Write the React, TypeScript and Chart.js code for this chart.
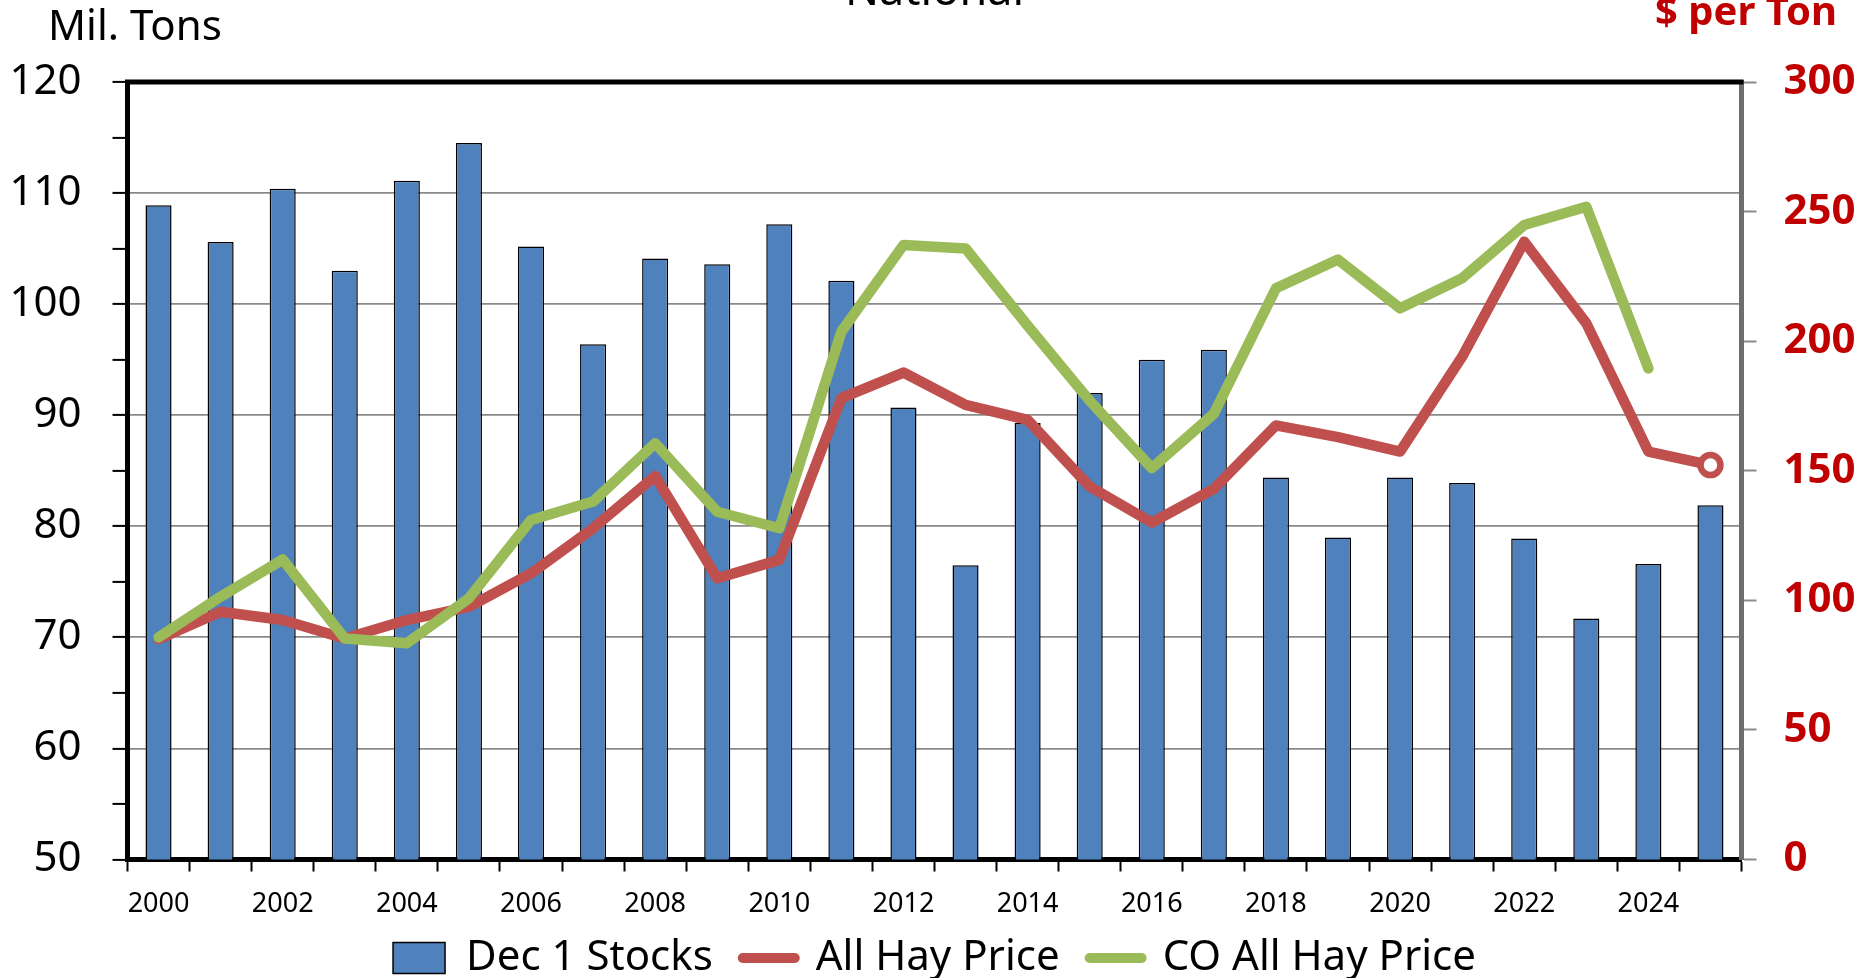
import React, { useEffect, useRef } from "react";
import { Chart, registerables } from "chart.js";

Chart.register(...registerables);

const years = [
  "2000", "2001", "2002", "2003", "2004", "2005", "2006", "2007", "2008", "2009",
  "2010", "2011", "2012", "2013", "2014", "2015", "2016", "2017", "2018", "2019",
  "2020", "2021", "2022", "2023", "2024", "2025",
];

const dec1Stocks = [
  108.9, 105.6, 110.4, 103.0, 111.1, 114.5, 105.2, 96.4, 104.1, 103.6,
  107.2, 102.1, 90.7, 76.5, 89.3, 92.0, 95.0, 95.9, 84.4, 79.0,
  84.4, 83.9, 78.9, 71.7, 76.6, 81.9,
];

const allHayPrice = [
  85.0, 95.6, 92.4, 85.3, 92.4, 97.5, 110.4, 127.8, 148.0, 108.5,
  115.6, 178.0, 187.9, 175.4, 169.6, 143.9, 130.0, 143.0, 167.5, 163.0,
  157.4, 194.0, 238.4, 206.9, 157.4, 152.2,
];

const coAllHayPrice: (number | null)[] = [
  85.7, 101.4, 115.8, 85.3, 83.4, 100.8, 131.0, 138.1, 160.6, 134.2,
  127.8, 203.7, 237.1, 235.8, 206.0, 177.0, 151.0, 172.0, 220.4, 231.5,
  212.7, 224.3, 244.8, 251.9, 189.5, null,
];

const leftMin = 50;
const leftMax = 120;
const rightMin = 0;
const rightMax = 300;

const FONT = "'Noto Sans', 'Open Sans', sans-serif";

const LEGEND_SHIFT = -10.5;

const decorPlugin = {
  id: "decor",
  afterLayout(chart: any) {
    const lg = chart.legend;
    if (lg) {
      lg.top += LEGEND_SHIFT;
      lg.bottom += LEGEND_SHIFT;
    }
  },
  beforeDatasetsDraw(chart: any) {
    const { ctx, chartArea } = chart;
    const { left, right, top } = chartArea;
    ctx.save();
    ctx.strokeStyle = "#000";
    ctx.lineWidth = 5;
    ctx.beginPath();
    ctx.moveTo(left - 2.5, top);
    ctx.lineTo(right + 2, top);
    ctx.stroke();
    ctx.restore();
  },
  afterDraw(chart: any) {
    const { ctx, chartArea } = chart;
    ctx.save();
    ctx.fillStyle = "#000";
    ctx.font = `42px ${FONT}`;
    ctx.textAlign = "left";
    ctx.textBaseline = "alphabetic";
    ctx.fillText("Mil. Tons", 48, 40);

    ctx.font = `45px ${FONT}`;
    ctx.textAlign = "center";
    ctx.fillText("National", (chartArea.left + chartArea.right) / 2, 5);

    ctx.fillStyle = "#C00000";
    ctx.font = `bold 40px ${FONT}`;
    ctx.textAlign = "right";
    ctx.fillText("$ per Ton", 1837, 25);
    ctx.restore();
  },
};

export default function App() {
  const canvasRef = useRef<HTMLCanvasElement | null>(null);

  useEffect(() => {
    if (!canvasRef.current) return;
    const lastIdx = allHayPrice.length - 1;
    const chart = new Chart(canvasRef.current, {
      data: {
        labels: years,
        datasets: [
          {
            type: "bar",
            label: "Dec 1 Stocks",
            data: dec1Stocks,
            backgroundColor: "#4F81BD",
            borderColor: "#000000",
            borderWidth: 1.5,
            barPercentage: 0.42,
            categoryPercentage: 1,
            yAxisID: "y",
            order: 3,
          },
          {
            type: "line",
            label: "All Hay Price",
            data: allHayPrice,
            borderColor: "#C0504D",
            backgroundColor: "#C0504D",
            borderWidth: 10.5,
            borderCapStyle: "round",
            borderJoinStyle: "round",
            pointRadius: allHayPrice.map((_, i) => (i === lastIdx ? 10 : 0)),
            pointBackgroundColor: "#FFFFFF",
            pointBorderColor: "#C0504D",
            pointBorderWidth: 6.5,
            tension: 0,
            yAxisID: "y1",
            order: 2,
          },
          {
            type: "line",
            label: "CO All Hay Price",
            data: coAllHayPrice,
            borderColor: "#9BBB59",
            backgroundColor: "#9BBB59",
            borderWidth: 10.5,
            borderCapStyle: "round",
            borderJoinStyle: "round",
            pointRadius: 0,
            tension: 0,
            yAxisID: "y1",
            order: 1,
          },
        ],
      } as any,
      options: {
        responsive: false,
        animation: false,
        maintainAspectRatio: false,
        layout: { padding: { top: 82, bottom: -21.5, left: 0, right: 0 } },
        plugins: {
          tooltip: { enabled: false },
          title: { display: false },
          legend: {
            display: true,
            position: "bottom",
            labels: {
              usePointStyle: true,
              pointStyleWidth: 52,
              boxHeight: 31,
              padding: 30,
              color: "#000",
              font: { family: FONT, size: 42 },
              sort: (a: any, b: any) => a.datasetIndex - b.datasetIndex,
              generateLabels: (c: any) => {
                const items = (Chart.defaults as any).plugins.legend.labels.generateLabels(c);
                return items.map((it: any) => ({
                  ...it,
                  pointStyle: it.datasetIndex === 0 ? "rect" : "line",
                  lineCap: it.datasetIndex === 0 ? "butt" : "round",
                  lineWidth: it.datasetIndex === 0 ? 1.5 : 10,
                }));
              },
            },
          },
        },
        scales: {
          x: {
            type: "category",
            offset: true,
            grid: {
              offset: true,
              drawOnChartArea: false,
              tickLength: 12,
              tickColor: "#000",
              tickWidth: 2,
            },
            border: { display: true, color: "#000", width: 5 },
            ticks: {
              autoSkip: false,
              maxRotation: 0,
              minRotation: 0,
              padding: 17,
              color: "#000",
              font: { family: FONT, size: 27 },
              callback: (_v: any, i: number) => (i % 2 === 0 ? years[i] : ""),
            },
            afterFit: (scale: any) => {
              scale.height = 58;
            },
          },
          y: {
            type: "linear",
            position: "left",
            min: leftMin,
            max: leftMax,
            grid: {
              drawOnChartArea: true,
              color: (ctx: any) =>
                ctx.tick && ctx.tick.value % 10 === 0 ? "#8A8A8A" : "rgba(0,0,0,0)",
              lineWidth: 1.8,
              tickLength: 15,
              tickColor: "#000",
              tickWidth: 2,
            },
            border: { display: true, color: "#000", width: 5 },
            ticks: {
              stepSize: 5,
              padding: 31,
              color: "#000",
              font: { family: FONT, size: 42 },
              callback: (v: any) => (Number(v) % 10 === 0 ? String(v) : ""),
            },
            afterFit: (scale: any) => {
              scale.width = 127.5;
            },
          },
          y1: {
            type: "linear",
            position: "right",
            min: rightMin,
            max: rightMax,
            grid: {
              drawOnChartArea: false,
              tickLength: 15,
              tickColor: "#8A8A8A",
              tickWidth: 2,
            },
            border: { display: true, color: "#6E6E6E", width: 5 },
            ticks: {
              stepSize: 50,
              padding: 27,
              color: "#C00000",
              font: { family: FONT, size: 42, weight: "bold" },
            },
            afterFit: (scale: any) => {
              scale.width = 127.5;
            },
          },
        },
      } as any,
      plugins: [decorPlugin],
    });
    return () => chart.destroy();
  }, []);

  return (
    <div style={{ position: "absolute", left: 0, top: 0, width: 1869, height: 978, background: "#fff" }}>
      <canvas ref={canvasRef} width={1869} height={978} style={{ display: "block" }} />
    </div>
  );
}
